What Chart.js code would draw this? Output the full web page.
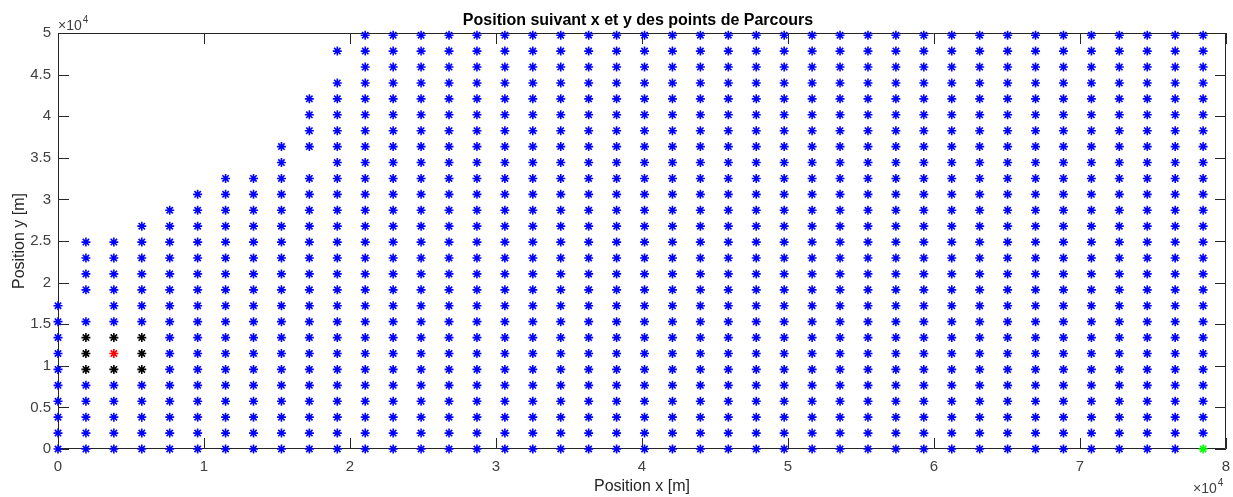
<!DOCTYPE html>
<html>
<head>
<meta charset="utf-8">
<title>Position suivant x et y des points de Parcours</title>
<script src="https://cdn.jsdelivr.net/npm/chart.js@4"></script>
<style>
  html, body { margin: 0; padding: 0; background: #fff; overflow: hidden; }
  canvas { display: block; }
</style>
</head>
<body>
<canvas id="grafica" width="1233" height="497"></canvas>
<script>
// positions des colonnes et des lignes de la grille (m)
const xGrille = [0, 1913, 3826, 5739, 7652, 9565, 11478, 13391, 15304, 17217,
    19130, 21043, 22956, 24869, 26782, 28695, 30608, 32521, 34434, 36347,
    38260, 40173, 42086, 43999, 45912, 47825, 49738, 51651, 53564, 55477,
    57390, 59303, 61216, 63129, 65042, 66955, 68868, 70781, 72694, 74607,
    76520, 78433];
const yGrille = [0, 1913, 3826, 5739, 7652, 9565, 11478, 13391, 15304, 17217,
    19130, 21043, 22956, 24869, 26782, 28695, 30608, 32521, 34434, 36347,
    38260, 40173, 42086, 43999, 45912, 47825, 49738];

// plus haute ligne occupee dans chaque colonne
const ligneMax = [9, 13, 13, 14, 15, 16, 17, 17, 19, 22, 25,
    26, 26, 26, 26, 26, 26, 26, 26, 26, 26, 26, 26, 26, 26, 26, 26,
    26, 26, 26, 26, 26, 26, 26, 26, 26, 26, 26, 26, 26, 26, 26];

// points absents [colonne, ligne]
const trous = [[1, 9], [9, 18], [10, 24]];

// voisins (noir), point courant (rouge), arrivee (vert)
const noirX = [1913, 1913, 1913, 3826, 3826, 5739, 5739, 5739];
const noirY = [9565, 11478, 13391, 9565, 13391, 9565, 11478, 13391];
const rougeX = [3826];
const rougeY = [11478];
const vertX = [78433];
const vertY = [0];

// graduations
const xTicks = [0, 10000, 20000, 30000, 40000, 50000, 60000, 70000, 80000];
const xLabels = ["0", "1", "2", "3", "4", "5", "6", "7", "8"];
const yTicks = [0, 5000, 10000, 15000, 20000, 25000, 30000, 35000, 40000, 45000, 50000];
const yLabels = ["0", "0.5", "1", "1.5", "2", "2.5", "3", "3.5", "4", "4.5", "5"];

const titre = "Position suivant x et y des points de Parcours";
const police = '"Liberation Sans", Arial, sans-serif';


function versPoints(xs, ys) {
    return xs.map((x, i) => ({ x: x, y: ys[i] }));
}

function pointsBleus() {
    const speciaux = versPoints(noirX.concat(rougeX, vertX), noirY.concat(rougeY, vertY));
    const pts = [];
    xGrille.forEach((x, i) => {
        for (let j = 0; j <= ligneMax[i]; j++) {
            if (trous.some(t => t[0] === i && t[1] === j)) continue;
            const y = yGrille[j];
            if (speciaux.some(p => p.x === x && p.y === y)) continue;
            pts.push({ x: x, y: y });
        }
    });
    return pts;
}

function serie(data, couleur) {
    return {
        data: data,
        pointStyle: "star",
        pointRadius: 4.5,
        borderWidth: 1.6,
        borderColor: couleur,
        backgroundColor: couleur,
        showLine: false,
        clip: false
    };
}

// cadre, graduations vers l'interieur et textes facon MATLAB
const cadre = {
    id: "cadre",
    beforeDatasetsDraw(chart) {
        const { ctx, chartArea: a, scales } = chart;
        ctx.save();
        ctx.strokeStyle = "#262626";
        ctx.lineWidth = 1;
        ctx.beginPath();
        ctx.rect(a.left + 0.5, a.top + 0.5, a.right - a.left - 1, a.bottom - a.top - 1);
        xTicks.forEach(v => {
            const px = Math.round(scales.x.getPixelForValue(v)) + 0.5;
            ctx.moveTo(px, a.bottom); ctx.lineTo(px, a.bottom - 11);
            ctx.moveTo(px, a.top); ctx.lineTo(px, a.top + 11);
        });
        yTicks.forEach(v => {
            const py = Math.round(scales.y.getPixelForValue(v)) + 0.5;
            ctx.moveTo(a.left, py); ctx.lineTo(a.left + 11, py);
            ctx.moveTo(a.right, py); ctx.lineTo(a.right - 11, py);
        });
        ctx.stroke();
        ctx.restore();
    },
    afterDraw(chart) {
        const { ctx, chartArea: a } = chart;
        const cx = (a.left + a.right) / 2;
        ctx.save();
        ctx.textBaseline = "alphabetic";

        ctx.fillStyle = "#000";
        ctx.textAlign = "center";
        ctx.font = "bold 16px " + police;
        ctx.fillText(titre, cx - 4, 25);

        ctx.fillStyle = "#262626";
        ctx.font = "16px " + police;
        ctx.fillText("Position x [m]", cx, 491);

        ctx.save();
        ctx.translate(24, (a.top + a.bottom) / 2);
        ctx.rotate(-Math.PI / 2);
        ctx.fillText("Position y [m]", 0, 0);
        ctx.restore();

        // facteurs x10^4
        ctx.fillStyle = "#404040";
        ctx.textAlign = "left";
        ctx.font = "14px " + police;
        ctx.fillText("\u00d710", 58, 30);
        let w = ctx.measureText("\u00d710").width;
        ctx.font = "10px " + police;
        ctx.fillText("4", 58 + w + 1, 23);

        ctx.font = "14px " + police;
        ctx.fillText("\u00d710", 1193, 493);
        w = ctx.measureText("\u00d710").width;
        ctx.font = "10px " + police;
        ctx.fillText("4", 1193 + w + 1, 486);
        ctx.restore();
    }
};


const ctx = document.getElementById("grafica").getContext("2d");
new Chart(ctx, {
    type: "scatter",
    data: {
        datasets: [
            serie(pointsBleus(), "#0000ff"),
            serie(versPoints(noirX, noirY), "#000000"),
            serie(versPoints(rougeX, rougeY), "#ff0000"),
            serie(versPoints(vertX, vertY), "#00ff00")
        ]
    },
    options: {
        responsive: false,
        animation: false,
        events: [],
        layout: { padding: { top: 33, right: 7, left: 0, bottom: 0 } },
        plugins: {
            legend: { display: false },
            tooltip: { enabled: false },
            title: { display: false }
        },
        scales: {
            x: {
                type: "linear",
                min: 0,
                max: 80000,
                grid: { display: false, drawTicks: false },
                border: { display: false },
                ticks: {
                    stepSize: 10000,
                    autoSkip: false,
                    maxRotation: 0,
                    padding: 9,
                    color: "#404040",
                    font: { family: police, size: 15 },
                    callback: (v, i) => xLabels[i]
                },
                afterFit: s => {
                    s.height = 48;
                    s.paddingLeft = 0;
                    s.paddingRight = 0;
                }
            },
            y: {
                type: "linear",
                min: 0,
                max: 50000,
                grid: { display: false, drawTicks: false },
                border: { display: false },
                ticks: {
                    stepSize: 5000,
                    autoSkip: false,
                    padding: 7,
                    color: "#404040",
                    font: { family: police, size: 15 },
                    callback: (v, i) => yLabels[i]
                },
                afterFit: s => {
                    s.width = 58;
                    s.paddingTop = 0;
                    s.paddingBottom = 0;
                }
            }
        }
    },
    plugins: [cadre]
});
</script>
</body>
</html>
